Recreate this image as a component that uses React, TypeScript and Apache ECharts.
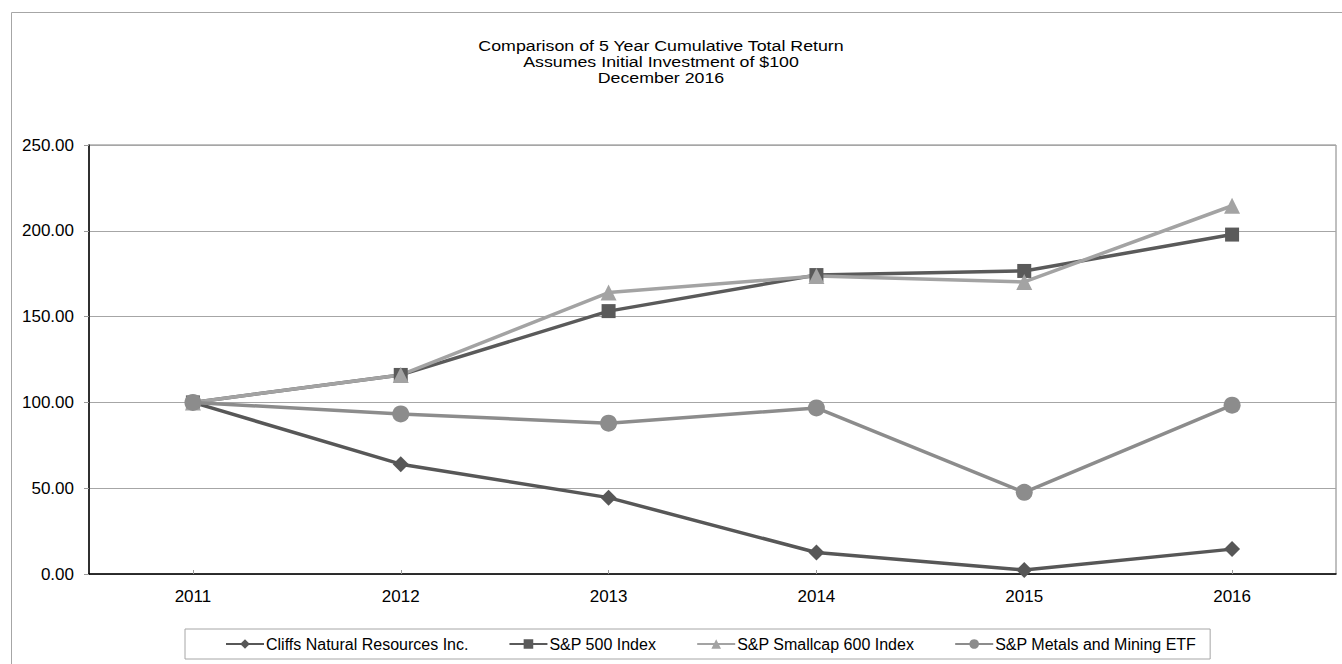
import React, { useEffect, useRef } from "react";
import * as echarts from "echarts";

const years = ["2011", "2012", "2013", "2014", "2015", "2016"];
const cliffs = [100, 64, 44.5, 12.5, 2.3, 14.5];
const sp500 = [100, 116, 153.2, 174.2, 176.6, 197.8];
const smallcap = [100, 116, 164, 173.6, 170.2, 214.6];
const metals = [100, 93.3, 87.9, 96.8, 47.6, 98.4];
const titleLines = [
  "Comparison of 5 Year Cumulative Total Return",
  "Assumes Initial Investment of $100",
  "December 2016",
];

const FONT = "'Liberation Sans', Arial, sans-serif";

export default function App() {
  const ref = useRef<HTMLDivElement>(null);
  useEffect(() => {
    if (!ref.current) return;
    const chart = echarts.init(ref.current, undefined, { renderer: "svg" });
    const mk = (name: string, data: number[], color: string, symbol: string, size: number) => ({
      name,
      type: "line",
      data,
      symbol,
      symbolSize: size,
      showAllSymbol: true,
      lineStyle: { color, width: 3.5 },
      itemStyle: { color },
      emphasis: { disabled: true },
    });
    chart.setOption({
      animation: false,
      textStyle: { fontFamily: FONT },
      graphic: [
        {
          type: "rect",
          shape: { x: 11.5, y: 12.5, width: 1500, height: 800 },
          style: { fill: "none", stroke: "#a6a6a6", lineWidth: 1 },
          silent: true,
          z: -1,
        },
        ...titleLines.map((t, i) => ({
          type: "text",
          x: 661,
          y: 46 + i * 16,
          scaleX: 1.27,
          style: {
            text: t,
            font: `14px ${FONT}`,
            fill: "#000",
            textAlign: "center",
            textVerticalAlign: "middle",
          },
        })),
      ],
      grid: {
        left: 89,
        right: 6,
        top: 145,
        bottom: 90,
        show: true,
        borderColor: "#808080",
        borderWidth: 1,
        backgroundColor: "transparent",
      },
      legend: {
        left: 185,
        top: 629,
        padding: [7, 14, 7, 40],
        itemGap: 40,
        itemWidth: 38,
        itemHeight: 12,
        borderColor: "#a6a6a6",
        borderWidth: 1,
        textStyle: { fontSize: 16, color: "#000", fontFamily: FONT, padding: [0, 0, 0, -3] },
        data: [
          "Cliffs Natural Resources Inc.",
          "S&P 500 Index",
          "S&P Smallcap 600 Index",
          "S&P Metals and Mining ETF",
        ],
      },
      xAxis: {
        type: "category",
        data: years,
        boundaryGap: true,
        axisLine: { lineStyle: { color: "#000", width: 1.5 } },
        axisTick: { show: true, inside: true, alignWithLabel: true, length: 4, lineStyle: { color: "#999" } },
        axisLabel: { fontSize: 17, color: "#000", margin: 14, fontFamily: FONT },
        splitLine: { show: false },
      },
      yAxis: {
        type: "value",
        min: 0,
        max: 250,
        interval: 50,
        axisLine: { show: true, lineStyle: { color: "#000", width: 1.5 } },
        axisTick: { show: true, length: 5, lineStyle: { color: "#999" } },
        axisLabel: {
          fontSize: 17,
          color: "#000",
          margin: 15,
          fontFamily: FONT,
          formatter: (v: number) => v.toFixed(2),
        },
        splitLine: { show: true, lineStyle: { color: "#a6a6a6", width: 1 } },
      },
      series: [
        mk("Cliffs Natural Resources Inc.", cliffs, "#575757", "diamond", 16),
        mk("S&P 500 Index", sp500, "#5a5a5a", "rect", 14),
        mk("S&P Smallcap 600 Index", smallcap, "#a3a3a3", "triangle", 16),
        mk("S&P Metals and Mining ETF", metals, "#8c8c8c", "circle", 17),
      ],
    });
    return () => chart.dispose();
  }, []);
  return (
    <div
      ref={ref}
      style={{ position: "fixed", left: 0, top: 0, width: 1342, height: 664, background: "#fff" }}
    />
  );
}
